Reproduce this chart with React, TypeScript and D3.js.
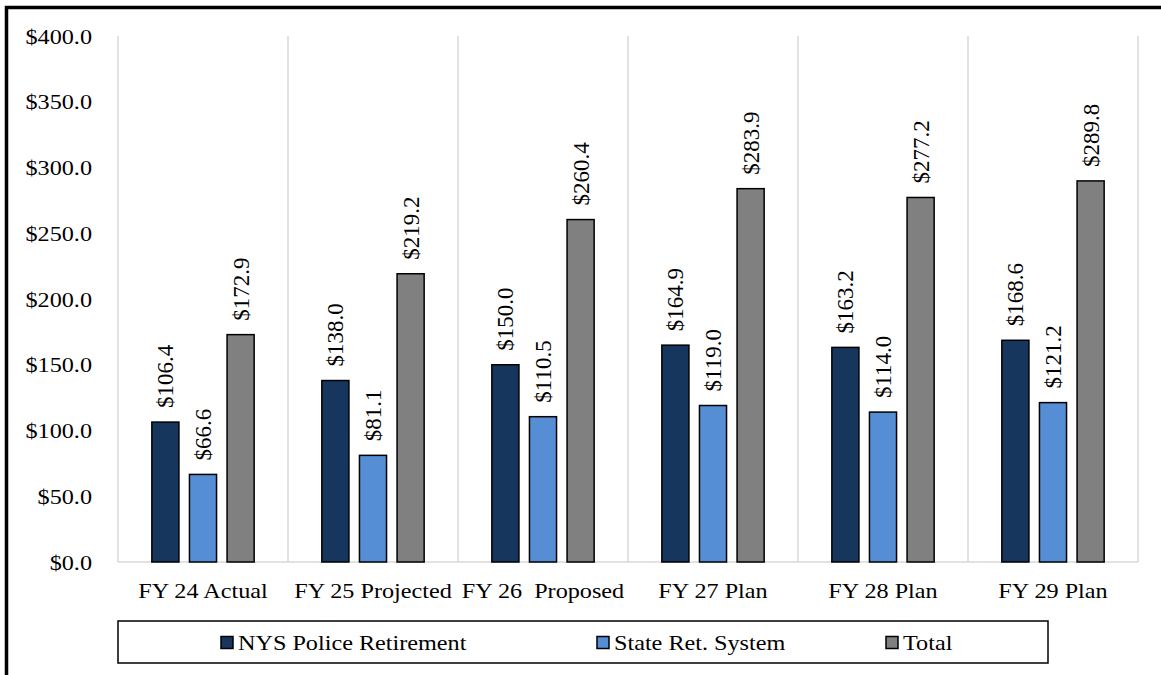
import React, { useEffect, useRef } from 'react';
import * as d3 from 'd3';

const categories = ['FY 24 Actual', 'FY 25 Projected', 'FY 26  Proposed', 'FY 27 Plan', 'FY 28 Plan', 'FY 29 Plan'];
const seriesNames = ['NYS Police Retirement', 'State Ret. System', 'Total'];
const policeRetirement = [106.4, 138.0, 150.0, 164.9, 163.2, 168.6];
const stateRetSystem = [66.6, 81.1, 110.5, 119.0, 114.0, 121.2];
const total = [172.9, 219.2, 260.4, 283.9, 277.2, 289.8];
const yTicks = [0, 50, 100, 150, 200, 250, 300, 350, 400];
const colors = ['#17365D', '#558ED5', '#808080'];

const W = 1161;
const H = 675;
const SX = 1.1; // horizontal stretch of the text in the original

export default function App() {
  const svgRef = useRef<SVGSVGElement>(null);

  useEffect(() => {
    if (!svgRef.current) return;
    document.body.style.margin = '0';
    const font = "'Liberation Serif', 'Times New Roman', Tinos, 'DejaVu Serif', serif";

    const svg = d3.select(svgRef.current);
    svg.selectAll('*').remove();
    svg.style('font-family', font);

    const margin = { top: 36, left: 118, right: 23, bottom: 113 };
    const plotBottom = H - margin.bottom;

    const x0 = d3.scaleBand<string>()
      .domain(categories)
      .range([margin.left, W - margin.right])
      .padding(0);

    const x1 = d3.scaleBand<string>()
      .domain(seriesNames)
      .range([0, x0.bandwidth()])
      .paddingInner(0.28)
      .paddingOuter(0.9);

    const y = d3.scaleLinear()
      .domain([0, 400])
      .range([plotBottom, margin.top]);

    // frame (top + left)
    svg.append('path')
      .attr('d', `M6.5,${H} L6.5,7.5 L${W},7.5`)
      .attr('fill', 'none')
      .attr('stroke', '#000')
      .attr('stroke-width', 3.5);

    // vertical gridlines
    const bounds = categories.map(c => x0(c)!).concat([x0(categories[categories.length - 1])! + x0.bandwidth()]);
    svg.append('g')
      .selectAll('line')
      .data(bounds)
      .join('line')
      .attr('x1', d => d)
      .attr('x2', d => d)
      .attr('y1', y(400))
      .attr('y2', plotBottom)
      .attr('stroke', '#D9D9D9')
      .attr('stroke-width', 1.5);

    // baseline
    svg.append('line')
      .attr('x1', bounds[0])
      .attr('x2', bounds[bounds.length - 1])
      .attr('y1', plotBottom)
      .attr('y2', plotBottom)
      .attr('stroke', '#D9D9D9')
      .attr('stroke-width', 1.5);

    // y axis labels
    svg.append('g')
      .selectAll('text')
      .data(yTicks)
      .join('text')
      .attr('transform', d => `translate(92,${y(d)}) scale(${SX},1)`)
      .attr('dy', '0.35em')
      .attr('text-anchor', 'end')
      .style('font-size', '22px')
      .attr('fill', '#000')
      .text(d => '$' + d.toFixed(1));

    // x axis labels
    svg.append('g')
      .selectAll('text')
      .data(categories)
      .join('text')
      .attr('transform', d => `translate(${x0(d)! + x0.bandwidth() / 2},598) scale(${SX},1)`)
      .attr('text-anchor', 'middle')
      .style('font-size', '22px')
      .attr('fill', '#000')
      .style('white-space', 'pre')
      .text(d => d);

    // bars
    const allSeries = [policeRetirement, stateRetSystem, total];
    const groups = svg.append('g')
      .selectAll('g')
      .data(categories)
      .join('g')
      .attr('transform', d => `translate(${x0(d)},0)`);

    groups.selectAll('rect')
      .data((_, i) => seriesNames.map((s, k) => ({ s, k, v: allSeries[k][i] })))
      .join('rect')
      .attr('x', d => x1(d.s)!)
      .attr('y', d => y(d.v))
      .attr('width', x1.bandwidth())
      .attr('height', d => plotBottom - y(d.v))
      .attr('fill', d => colors[d.k])
      .attr('stroke', '#000')
      .attr('stroke-width', 1.5);

    groups.selectAll('text')
      .data((_, i) => seriesNames.map((s, k) => ({ s, k, v: allSeries[k][i] })))
      .join('text')
      .attr('transform', d => `translate(${x1(d.s)! + x1.bandwidth() / 2},${y(d.v) - 14}) rotate(-90)`)
      .attr('dy', '0.35em')
      .attr('text-anchor', 'start')
      .style('font-size', '23px')
      .attr('fill', '#000')
      .text(d => '$' + d.v.toFixed(1));

    // legend
    const legend = svg.append('g');
    legend.append('rect')
      .attr('x', 118)
      .attr('y', 621)
      .attr('width', 930)
      .attr('height', 42)
      .attr('fill', '#fff')
      .attr('stroke', '#000')
      .attr('stroke-width', 1.5);

    const legendX = [221, 597, 886];
    const items = legend.selectAll('g.item')
      .data(seriesNames)
      .join('g')
      .attr('class', 'item')
      .attr('transform', (_, i) => `translate(${legendX[i]},0)`);
    items.append('rect')
      .attr('x', 0)
      .attr('y', 636.5)
      .attr('width', 12)
      .attr('height', 12)
      .attr('fill', (_, i) => colors[i])
      .attr('stroke', '#000')
      .attr('stroke-width', 1.5);
    items.append('text')
      .attr('transform', `translate(17,650) scale(${SX},1)`)
      .style('font-size', '22px')
      .attr('fill', '#000')
      .text(d => d);
  }, []);

  return <svg ref={svgRef} width={W} height={H} style={{ display: 'block', background: '#fff' }} />;
}
